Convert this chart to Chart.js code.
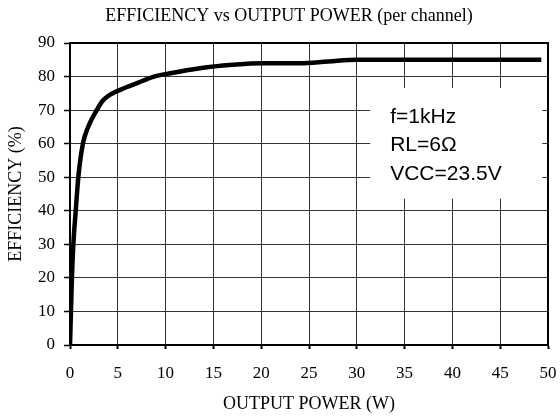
<!DOCTYPE html>
<html>
<head>
<meta charset="utf-8">
<script src="https://cdn.jsdelivr.net/npm/chart.js@4.4.1/dist/chart.umd.min.js"></script>
<style>
  html, body { margin: 0; padding: 0; background: #fff; }
  #wrap { width: 560px; height: 419px; }
</style>
</head>
<body>
<div id="wrap"><canvas id="EfficiencyChart"></canvas></div>
<script>
//
// Data
var output_power = [0, 0.1, 0.2, 0.35, 0.6, 0.87, 1.35, 1.9, 2.8, 3.4, 4.2, 5.9, 7.5, 8.7, 10.5, 13.6, 17, 20, 24, 27, 30, 35, 40, 45, 49.3];
var efficiency   = [0, 10, 20, 30, 40, 50, 60, 65, 70, 72.7, 74.6, 76.8, 78.6, 79.9, 81, 82.5, 83.5, 84, 84, 84.5, 85, 85, 85, 85, 85];
var note_lines   = ['f=1kHz', 'RL=6\u03A9', 'VCC=23.5V'];

var serif = "'Liberation Serif', 'Times New Roman', serif";

var points = [];
for (var i = 0; i < output_power.length; i++) {
  points.push({ x: output_power[i], y: efficiency[i] });
}

//
// White note box with the test conditions
var notePlugin = {
  id: 'noteBox',
  beforeDatasetsDraw: function(chart) {
    var ctx = chart.ctx;
    var xs = chart.scales.x, ys = chart.scales.y;
    var left = xs.getPixelForValue(31.4), right = xs.getPixelForValue(49.4);
    var top = ys.getPixelForValue(76.6), bottom = ys.getPixelForValue(43.6);
    ctx.save();
    ctx.fillStyle = '#fff';
    ctx.fillRect(left, top, right - left, bottom - top);
    ctx.fillStyle = '#000';
    ctx.font = "21px 'Liberation Sans', Arial, sans-serif";
    ctx.textBaseline = 'alphabetic';
    for (var i = 0; i < note_lines.length; i++) {
      ctx.fillText(note_lines[i], left + 20, top + 35 + i * 28.5);
    }
    ctx.restore();
  }
};

//
// Frame round the plot area
var framePlugin = {
  id: 'frame',
  afterDatasetsDraw: function(chart) {
    var a = chart.chartArea, ctx = chart.ctx;
    ctx.save();
    ctx.strokeStyle = '#000';
    ctx.lineWidth = 2;
    ctx.strokeRect(a.left, a.top, a.right - a.left, a.bottom - a.top);
    ctx.restore();
  }
};

var ctx = document.getElementById('EfficiencyChart').getContext('2d');
new Chart(ctx, {
  type: 'line',
  data: {
    datasets: [{
      data: points,
      borderColor: '#000',
      borderWidth: 4.5,
      pointRadius: 0,
      fill: false,
      cubicInterpolationMode: 'monotone'
    }]
  },
  options: {
    responsive: true,
    maintainAspectRatio: false,
    animation: false,
    layout: { padding: { left: 30, right: 12, top: 0, bottom: 0 } },
    plugins: {
      legend: { display: false },
      tooltip: { enabled: false },
      title: {
        display: true,
        text: 'EFFICIENCY vs OUTPUT POWER (per channel)',
        color: '#000',
        font: { family: serif, size: 18, weight: 'normal' },
        padding: { top: 5, bottom: 16.4 }
      }
    },
    scales: {
      x: {
        type: 'linear',
        min: 0,
        max: 50,
        afterFit: function(s) {
          s.height = 74;
          s.paddingLeft = 0;
          s.paddingRight = 0;
        },
        ticks: {
          stepSize: 5,
          color: '#000',
          padding: 14,
          font: { family: serif, size: 17 }
        },
        grid: {
          color: '#333',
          lineWidth: 1,
          tickLength: 4,
          tickColor: '#000',
          tickWidth: 2
        },
        border: { color: '#000', width: 2 },
        title: {
          display: true,
          text: 'OUTPUT POWER (W)',
          color: '#000',
          font: { family: serif, size: 18 },
          padding: { top: 4, bottom: 3.5 }
        }
      },
      y: {
        min: 0,
        max: 90,
        afterFit: function(s) { s.width = 40; },
        ticks: {
          stepSize: 10,
          color: '#000',
          padding: 9,
          font: { family: serif, size: 17 }
        },
        grid: {
          color: '#333',
          lineWidth: 1,
          tickLength: 6,
          tickColor: '#000',
          tickWidth: 1.5
        },
        border: { color: '#000', width: 2 },
        title: {
          display: true,
          text: 'EFFICIENCY (%)',
          color: '#000',
          font: { family: serif, size: 18 },
          padding: { top: -24.5, bottom: 4 }
        }
      }
    }
  },
  plugins: [notePlugin, framePlugin]
});
</script>
</body>
</html>
